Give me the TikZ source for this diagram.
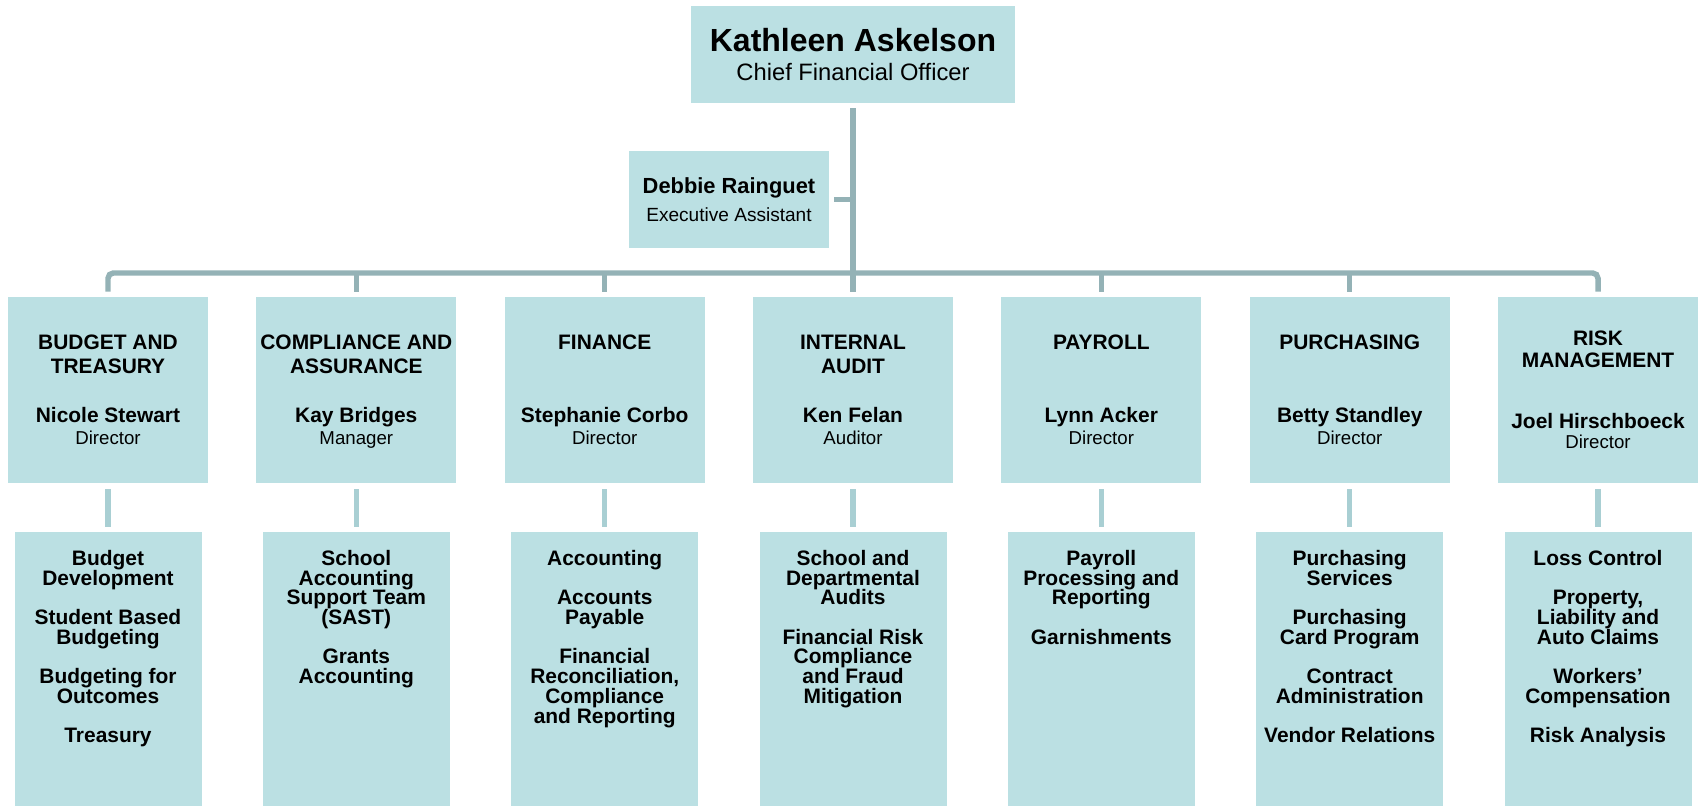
\documentclass[tikz,border=0pt]{standalone}
\usepackage{fontspec}
\setmainfont{Liberation Sans}
\definecolor{boxfill}{HTML}{BBE0E3}
\definecolor{barline}{HTML}{94B2B6}
\definecolor{droplink}{HTML}{A9CFD3}
\newcommand{\unitfont}{\fontsize{15.7}{14.8}\selectfont\bfseries\lineskiplimit=-8pt\relax}

\begin{document}
\begin{tikzpicture}[x=0.75pt,y=0.75pt,yscale=-1,xscale=1,
  box/.style={fill=boxfill, inner sep=0pt, align=center},
  headbox/.style={box, minimum width=243pt, minimum height=72.75pt, font=\fontsize{17.8}{21.75}\selectfont},
  asstbox/.style={box, minimum width=150pt, minimum height=72.75pt, font=\fontsize{14.3}{21}\selectfont},
  deptbox/.style={box, minimum width=150pt, minimum height=139.5pt, font=\fontsize{15.7}{18}\selectfont\bfseries},
  unitbox/.style={box, minimum width=140.25pt, minimum height=205.5pt},
  unittext/.style={inner sep=0pt, align=center, anchor=north, font=\unitfont},
  bar/.style={draw=barline, line width=4.1pt},
  gap/.style={shorten <=3.75pt, shorten >=3.75pt},
  link/.style={draw=droplink, line width=4.1pt, shorten <=4.5pt, shorten >=3.75pt}]
  \useasboundingbox (0,0) rectangle (1701,806);

  % Chief and assistant
  \node [headbox] (cfo) at (853,54.5) {{\fontsize{24}{28}\selectfont\bfseries Kathleen Askelson}\\Chief Financial Officer};
  \node [asstbox] (asst) at (729,199.5) {{\fontsize{16.4}{20}\selectfont\bfseries Debbie Rainguet}\\Executive Assistant};

  % Departments
  \node [deptbox] (d1) at (108,390) {BUDGET AND\\TREASURY\\[18.75pt]Nicole Stewart\\[-1.5pt]{\mdseries\fontsize{14}{16}\selectfont Director}};
  \node [deptbox] (d2) at (356.3,390) {COMPLIANCE AND\\ASSURANCE\\[18.75pt]Kay Bridges\\[-1.5pt]{\mdseries\fontsize{14}{16}\selectfont\raisebox{0pt}[\height][0pt]{Manager}}};
  \node [deptbox] (d3) at (604.7,390) {FINANCE\\\mbox{}\\[18.75pt]Stephanie Corbo\\[-1.5pt]{\mdseries\fontsize{14}{16}\selectfont Director}};
  \node [deptbox] (d4) at (853,390) {INTERNAL\\AUDIT\\[18.75pt]Ken Felan\\[-1.5pt]{\mdseries\fontsize{14}{16}\selectfont Auditor}};
  \node [deptbox] (d5) at (1101.3,390) {PAYROLL\\\mbox{}\\[18.75pt]Lynn Acker\\[-1.5pt]{\mdseries\fontsize{14}{16}\selectfont Director}};
  \node [deptbox] (d6) at (1349.7,390) {PURCHASING\\\mbox{}\\[18.75pt]Betty Standley\\[-1.5pt]{\mdseries\fontsize{14}{16}\selectfont Director}};
  \node [deptbox] (d7) at (1598,390) {RISK\\[-1.5pt]MANAGEMENT\\[27.75pt]Joel Hirschboeck\\[-3pt]{\mdseries\fontsize{14}{16}\selectfont Director}};

  % Units below each department
  \node [unitbox] (u1) at (108,669) {};
  \node [unitbox] (u2) at (356.3,669) {};
  \node [unitbox] (u3) at (604.7,669) {};
  \node [unitbox] (u4) at (853,669) {};
  \node [unitbox] (u5) at (1101.3,669) {};
  \node [unitbox] (u6) at (1349.7,669) {};
  \node [unitbox] (u7) at (1598,669) {};

  \node [unittext] (t1) at (108,550) {Budget\\Development\\[14.7pt]Student Based\\Budgeting\\[14.7pt]Budgeting for\\Outcomes\\[14.7pt]Treasury};
  \node [unittext] (t2) at (356.3,550) {School\\Accounting\\Support Team\\(SAST)\\[14.7pt]Grants\\Accounting};
  \node [unittext] (t3) at (604.7,550) {Accounting\\[14.7pt]Accounts\\Payable\\[14.7pt]Financial\\Reconciliation,\\Compliance\\and Reporting};
  \node [unittext] (t4) at (853,550) {School and\\Departmental\\Audits\\[14.7pt]Financial Risk\\Compliance\\and Fraud\\Mitigation};
  \node [unittext] (t5) at (1101.3,550) {Payroll\\Processing and\\Reporting\\[14.7pt]Garnishments};
  \node [unittext] (t6) at (1349.7,550) {Purchasing\\Services\\[14.7pt]Purchasing\\Card Program\\[14.7pt]Contract\\Administration\\[14.7pt]Vendor Relations};
  \node [unittext] (t7) at (1598,550) {Loss Control\\[14.7pt]Property,\\Liability and\\Auto Claims\\[14.7pt]Workers’\\Compensation\\[14.7pt]Risk Analysis};

  % Connectors
  \coordinate (bus) at (853,273);
  \draw [bar, gap] (cfo.south) -- (d4.north);
  \draw [bar, shorten <=3.75pt] (asst.east) -- (asst.east -| cfo.south);
  \draw [bar, gap, rounded corners=4pt] (d1.north) |- (bus) -| (d7.north);
  \foreach \n in {2,3,5,6}
    \draw [bar, shorten >=3.75pt] (d\n.north |- bus) -- (d\n.north);
  \foreach \n in {1,...,7}
    \draw [link] (d\n.south) -- (u\n.north);
\end{tikzpicture}
\end{document}
